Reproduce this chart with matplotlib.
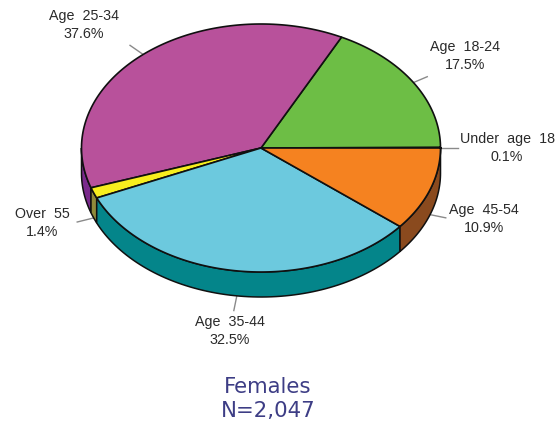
import matplotlib
matplotlib.use('Agg')
import matplotlib.pyplot as plt
import numpy as np

plt.rcParams['font.family'] = ['Liberation Sans', 'DejaVu Sans']

# slices, counter clockwise starting from 3 o'clock
groups = ['Under  age  18', 'Age  18-24', 'Age  25-34', 'Over  55', 'Age  35-44', 'Age  45-54']
percents = [0.1, 17.5, 37.6, 1.4, 32.5, 10.9]
pct_labels = ['0.1%', '17.5%', '37.6%', '1.4%', '32.5%', '10.9%']

top_colors = ['#6dbe45', '#6dbe45', '#b8519b', '#f7ee1e', '#6cc9de', '#f58220']
side_colors = ['#4c8a30', '#4c8a30', '#7a2a8c', '#8f8a3a', '#04858a', '#8a4a1e']

# layout, in pixels
cx, cy = 261, 148
rx, ry = 179.5, 124
depth = 25
text_pos = [(507, 148), (465, 56), (84, 25), (42, 223), (230, 331), (484, 219)]
leader_len = [18, 15, 16, 17, 15, 16]
leader_dir = [(1, 0), (0.92, -0.39), (-0.82, -0.57), (-0.97, 0.24), (-0.2, 0.98), (0.98, 0.2)]

fig = plt.figure(figsize=(5.6, 4.25), dpi=100)
ax = fig.add_axes([0, 0, 1, 1])
ax.set_xlim(0, 560)
ax.set_ylim(425, 0)
ax.axis('off')

edges = np.concatenate([[0], np.cumsum(percents)]) / sum(percents) * 2 * np.pi


def rim(a, drop=0):
    return cx + rx * np.cos(a), cy - ry * np.sin(a) + drop


# walls of the front half only
for i in range(len(percents)):
    a0 = max(edges[i], np.pi)
    a1 = edges[i + 1]
    if a1 <= a0:
        continue
    t = np.linspace(a0, a1, 80)
    x, y = rim(t)
    xs = np.concatenate([x, x[::-1]])
    ys = np.concatenate([y, y[::-1] + depth])
    ax.fill(xs, ys, facecolor=side_colors[i], edgecolor='#101010', lw=1.1, zorder=2)

# top faces
for i in range(len(percents)):
    t = np.linspace(edges[i], edges[i + 1], 120)
    x, y = rim(t)
    ax.fill(np.r_[cx, x], np.r_[cy, y], facecolor=top_colors[i], edgecolor='#101010',
            lw=1.2, joinstyle='round', zorder=3)

# labels and leader lines
for i in range(len(percents)):
    mid = (edges[i] + edges[i + 1]) / 2
    x0, y0 = rim(mid, depth if mid > np.pi else 0)
    dx, dy = leader_dir[i]
    ax.plot([x0, x0 + dx * leader_len[i]], [y0, y0 + dy * leader_len[i]],
            color='#8a8a8a', lw=1, zorder=1)
    ax.text(text_pos[i][0], text_pos[i][1], groups[i] + '\n' + pct_labels[i],
            ha='center', va='center', fontsize=10.3, color='#2a2a2a', linespacing=1.45)

ax.text(268, 399, 'Females\nN=2,047', ha='center', va='center', fontsize=15.3,
        family='DejaVu Sans', color='#3d3d85', linespacing=1.3)

fig.savefig('out.png', dpi=100)
